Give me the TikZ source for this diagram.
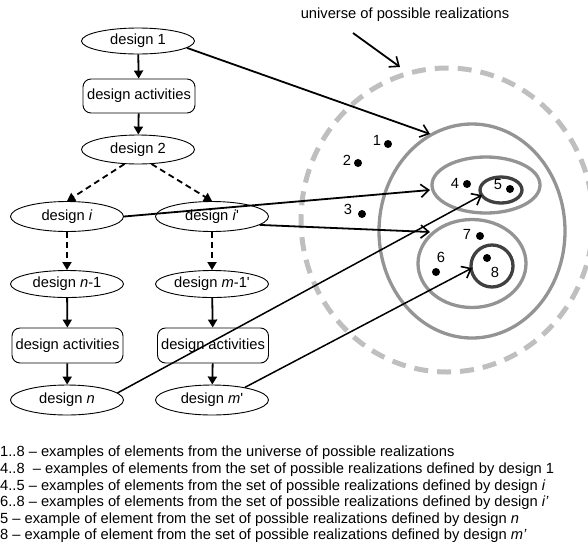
\documentclass[tikz,border=0pt]{standalone}
\usepackage{fontspec}
\setmainfont{Liberation Sans}
\usetikzlibrary{shapes.geometric,arrows.meta}
\begin{document}
\begin{tikzpicture}[x=1pt,y=-1pt,
  font=\fontsize{14.7}{16.6}\selectfont,
  dnode/.style={ellipse,draw,line width=0.9pt,minimum width=113pt,minimum height=28pt,inner sep=0pt},
  actbox/.style={rectangle,rounded corners=8pt,draw,line width=0.9pt,minimum width=112pt,minimum height=34pt,inner sep=0pt},
  flow/.style={line width=1.8pt,-{Triangle[length=8pt,width=9pt]}},
  dflow/.style={flow,dash pattern=on 6pt off 4pt},
  link/.style={line width=1.8pt,-{Straight Barb[length=8pt,width=13pt,line width=1.6pt]}},
  dot/.style={circle,fill=black,inner sep=0pt,minimum size=8pt},
  lab/.style={inner sep=0pt},
  universe/.style={line width=5pt,color=black!25,dash pattern=on 14pt off 9pt},
  setone/.style={line width=3.3pt,color=black!42},
  settwo/.style={line width=3.3pt,color=black!75}
]
\useasboundingbox (0,0) rectangle (588,544);

% left flow
\node[dnode,minimum height=26pt] (d1) at (138,41) {design 1};
\node[actbox] (a1) at (139,96) {design activities};
\node[dnode,minimum height=29pt] (d2) at (138,149.5) {design 2};
\node[dnode,minimum height=30pt] (di) at (67,216.5) {design \textit{i}};
\node[dnode,minimum height=30pt] (dj) at (212,216.5) {design \textit{i}\textquotesingle};
\node[dnode,minimum height=27pt] (dn1) at (67,284) {design \textit{n}-1};
\node[dnode,minimum height=27pt] (dm1) at (212,284) {design \textit{m}-1\textquotesingle};
\node[actbox,minimum width=111pt,minimum height=35pt] (a2) at (67.5,345.5) {design activities};
\node[actbox,minimum width=111pt,minimum height=35pt] (a3) at (213,345.5) {design activities};
\node[dnode,minimum height=30pt] (dn) at (67,400) {design \textit{n}};
\node[dnode,minimum height=30pt] (dm) at (212,400) {design \textit{m}\textquotesingle};

\draw[flow] (d1) -- (a1);
\draw[flow] (a1) -- (d2);
\draw[dflow] (d2.227) -- (di.north);
\draw[dflow] (d2.313) -- (dj.north);
\draw[dflow] (di) -- (dn1);
\draw[dflow] (dj) -- (dm1);
\draw[flow] (dn1) -- (a2);
\draw[flow] (a2) -- (dn);
\draw[flow] (dm1) -- (a3);
\draw[flow] (a3) -- (dm);

% sets
\draw[universe] (447,220) ellipse [x radius=146, y radius=152];
\draw[setone] (472,231) ellipse [x radius=93, y radius=107];
\draw[setone] (486,185) ellipse [x radius=54, y radius=28];
\draw[setone] (472,263.5) ellipse [x radius=54, y radius=44];
\draw[settwo] (501,190) ellipse [x radius=21, y radius=13];
\draw[settwo] (492,266) circle [radius=21];

% elements
\node[dot] (p1) at (388,144) {};
\node[dot] (p2) at (358,163) {};
\node[dot] (p3) at (362,214) {};
\node[dot] (p4) at (467,184) {};
\node[dot] (p5) at (510,189) {};
\node[dot] (p6) at (436,272) {};
\node[dot] (p7) at (480,236) {};
\node[dot] (p8) at (487,258) {};
\node[lab] at (377,140) {1};
\node[lab] at (347,160) {2};
\node[lab] at (348,209) {3};
\node[lab] at (455,183) {4};
\node[lab] at (498,185) {5};
\node[lab] at (441,257) {6};
\node[lab] at (467,234) {7};
\node[lab] at (495,272) {8};

% universe label
\node[lab] (uni) at (405,15) {universe of possible realizations};
\coordinate (u1) at (353,33);
\coordinate (u2) at (400,67);
\draw[link] (u1) -- (u2);

% links
\coordinate (t1) at (430,134);
\coordinate (t2) at (430,190);
\coordinate (t3) at (430,232);
\coordinate (t4) at (482,195);
\coordinate (t5) at (472,268);
\draw[link] (d1.-8) -- (t1);
\draw[link] (di.east) -- (t2);
\draw[link] (dj.-10) -- (t3);
\draw[link,line width=1.5pt] (dn.8) -- (t4);
\draw[link,line width=1.5pt] (dm.21) -- (t5);

% legend
\node[lab,anchor=north west,align=left] (leg) at (0,446) {%
1..8 -- examples of elements from the universe of possible realizations\\
4..8~~-- examples of elements from the set of possible realizations defined by design 1\\
4..5 -- examples of elements from the set of possible realizations defined by design \textit{i}\\
6..8 -- examples of elements from the set of possible realizations defined by design \textit{i’}\\
5 -- example of element from the set of possible realizations defined by design \textit{n}\\
8 -- example of element from the set of possible realizations defined by design \textit{m’}};
\end{tikzpicture}
\end{document}
